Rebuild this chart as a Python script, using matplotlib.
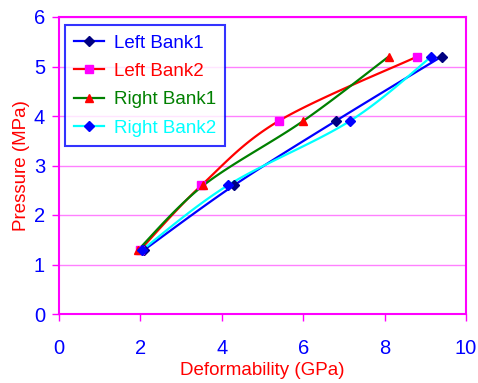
import numpy as np
import matplotlib.pyplot as plt
from matplotlib.lines import Line2D

plt.rcParams['font.family'] = ['Liberation Sans', 'DejaVu Sans']

# deformability (GPa) vs pressure (MPa) for each bank
pressure = [1.3, 2.6, 3.9, 5.2]
left_bank1 = [2.1, 4.3, 6.8, 9.4]
left_bank2 = [2.0, 3.5, 5.4, 8.8]
right_bank1 = [1.95, 3.55, 6.0, 8.1]
right_bank2 = [2.05, 4.15, 7.15, 9.15]

labels = ["Left Bank1", "Left Bank2", "Right Bank1", "Right Bank2"]
line_colors = ["#0000FF", "#FF0000", "#008000", "#00FFFF"]
marker_colors = ["#000080", "#FF00FF", "#FF0000", "#0000FF"]
markers = ["D", "s", "^", "D"]
marker_sizes = [5, 6, 6, 5]


def smooth(x, y, n=30):
    # catmull-rom style bezier through the points
    pts = np.column_stack([x, y]).astype(float)
    ext = np.vstack([pts[0], pts, pts[-1]])
    out = []
    for i in range(1, len(ext) - 2):
        p0, p1, p2, p3 = ext[i - 1], ext[i], ext[i + 1], ext[i + 2]
        c1 = p1 + (p2 - p0) / 6.0
        c2 = p2 - (p3 - p1) / 6.0
        t = np.linspace(0, 1, n)[:, None]
        seg = ((1 - t) ** 3) * p1 + 3 * ((1 - t) ** 2) * t * c1 + 3 * (1 - t) * t ** 2 * c2 + t ** 3 * p2
        out.append(seg)
    seg = np.vstack(out)
    return seg[:, 0], seg[:, 1]


fig = plt.figure(figsize=(4.78, 3.83), dpi=100)
ax = fig.add_axes([59 / 478, 1 - 314 / 383, 407 / 478, 297 / 383])

series = [left_bank1, left_bank2, right_bank1, right_bank2]
handles = []
for xs, lab, lc, mc, mk, ms in zip(series, labels, line_colors, marker_colors, markers, marker_sizes):
    sx, sy = smooth(xs, pressure)
    ax.plot(sx, sy, color=lc, lw=1.6, zorder=2)
    ax.plot(xs, pressure, ls="none", marker=mk, color=mc, markersize=ms, zorder=3)
    handles.append(Line2D([], [], color=lc, lw=1.6, marker=mk, markerfacecolor=mc,
                          markeredgecolor=mc, markersize=ms, label=lab))

ax.set_xlim(0, 10)
ax.set_ylim(0, 6)
ax.set_xticks(range(0, 11, 2))
ax.set_yticks(range(0, 7))
ax.yaxis.grid(True, color="#FF80FF", lw=1)
ax.set_axisbelow(True)
for s in ax.spines.values():
    s.set_color("#FF00FF")
    s.set_linewidth(1.5)
ax.tick_params(colors="#FF00FF", labelcolor="#0000FF", labelsize=14.5, length=5, width=1)
ax.tick_params(axis="x", pad=13)
ax.tick_params(axis="y", pad=5)

ax.set_xlabel("Deformability (GPa)", color="#FF0000", fontsize=13.5, labelpad=3)
ax.set_ylabel("Pressure (MPa)", color="#FF0000", fontsize=13.5, labelpad=3)

leg = ax.legend(handles=handles, loc="upper left", bbox_to_anchor=(6 / 407, 1 - 8 / 297),
                borderaxespad=0, fontsize=13.5, frameon=True, fancybox=False,
                handlelength=1.6, handletextpad=0.5, borderpad=0.5, labelspacing=0.6)
leg.get_frame().set_edgecolor("#0000FF")
leg.get_frame().set_linewidth(1.5)
for txt, c in zip(leg.get_texts(), ["#0000FF", "#FF0000", "#008000", "#00FFFF"]):
    txt.set_color(c)

fig.savefig("out.png", dpi=100)
